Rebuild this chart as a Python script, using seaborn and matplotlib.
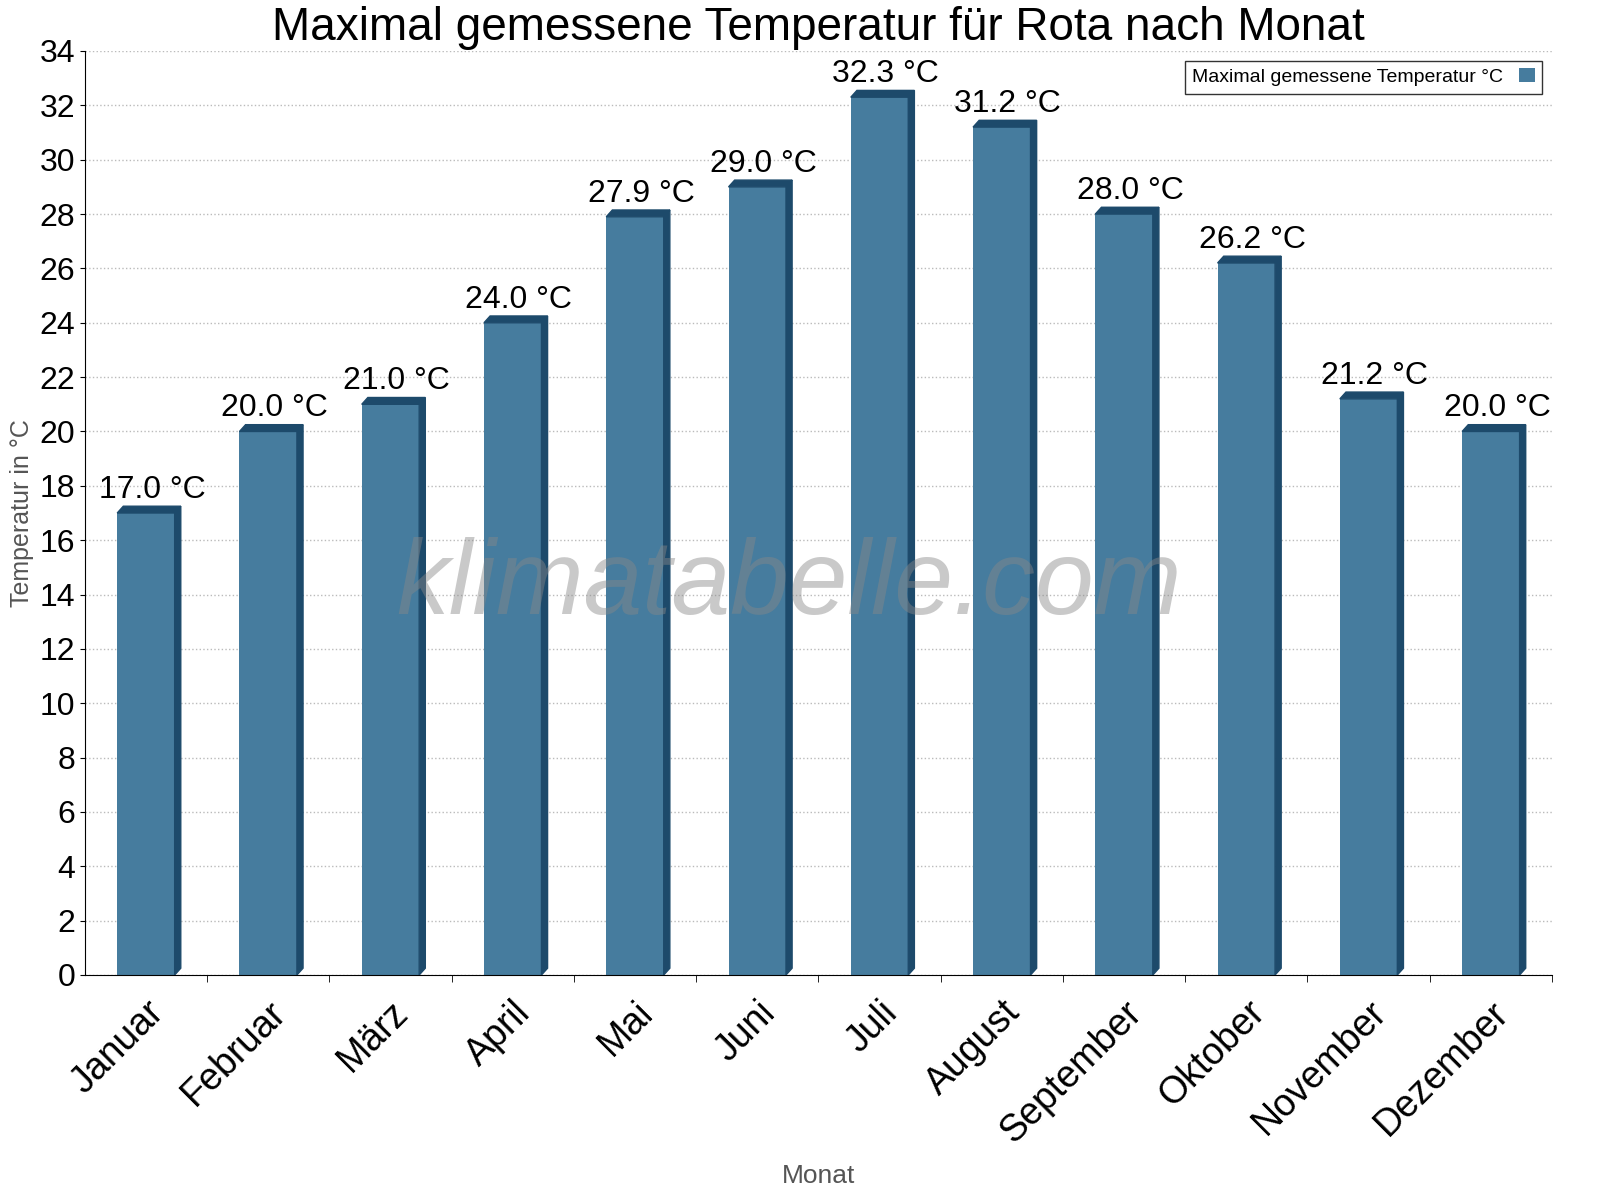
import matplotlib
matplotlib.use("Agg")
import matplotlib.pyplot as plt
from matplotlib.patches import Polygon
import pandas as pd
import seaborn as sns

months = ["Januar", "Februar", "März", "April", "Mai", "Juni", "Juli",
          "August", "September", "Oktober", "November", "Dezember"]
temps = [17.0, 20.0, 21.0, 24.0, 27.9, 29.0, 32.3, 31.2, 28.0, 26.2, 21.2, 20.0]
yticks = list(range(0, 35, 2))

plt.rcParams["font.family"] = "Liberation Sans"

df = pd.DataFrame({"Monat": months, "Temp": temps})

fig = plt.figure(figsize=(16, 12), dpi=100)
ax = fig.add_axes([0.053, 0.1875, 0.917, 0.77])
sns.barplot(data=df, x="Monat", y="Temp", color="#467c9e", saturation=1,
            width=0.47, ax=ax, label="Maximal gemessene Temperatur °C")

# fake 3D edge: dark right side and top
dx, dy = 0.05, 0.25
for p in ax.patches:
    x0, w, h = p.get_x(), p.get_width(), p.get_height()
    x1 = x0 + w
    ax.add_patch(Polygon([(x1, 0), (x1 + dx, dy), (x1 + dx, h + dy), (x1, h)],
                         closed=True, color="#1d4a6b", zorder=3))
    ax.add_patch(Polygon([(x0, h), (x0 + dx, h + dy), (x1 + dx, h + dy), (x1, h)],
                         closed=True, color="#1d4a6b", zorder=3))
    ax.text(x0 + w / 2 + dx, h + 0.3, f"{h:.1f} °C", ha="center", va="bottom",
            fontsize=23, zorder=4)

ax.set_xlim(-0.5, 11.5)
ax.set_ylim(0, 34)
ax.set_yticks(yticks)
ax.tick_params(axis="y", labelsize=23)
ax.set_xticks(range(12))
ax.set_xticklabels(months, rotation=45, ha="right", rotation_mode="anchor", fontsize=27)
ax.set_xticks([i + 0.5 for i in range(12)], minor=True)
ax.tick_params(axis="x", which="major", length=0, pad=14)
ax.tick_params(axis="x", which="minor", length=5)
ax.grid(axis="y", linestyle=":", color="#bbbbbb", linewidth=1)
ax.set_axisbelow(True)
for s in ["top", "right"]:
    ax.spines[s].set_visible(False)
ax.set_xlabel("Monat", fontsize=19, color="#555555", labelpad=10)
ax.set_ylabel("Temperatur in °C", fontsize=18, color="#555555")
ax.set_title("Maximal gemessene Temperatur für Rota nach Monat", fontsize=33, pad=8)

ax.text(0.48, 0.42, "klimatabelle.com", transform=ax.transAxes, ha="center", va="center",
        fontsize=76, style="italic", color="#888888", alpha=0.45, zorder=5)

leg = ax.legend(loc="upper right", fontsize=14, frameon=True, fancybox=False,
                markerfirst=False, handlelength=0.8)
leg.get_frame().set_edgecolor("black")

fig.savefig("out.png", dpi=100)
